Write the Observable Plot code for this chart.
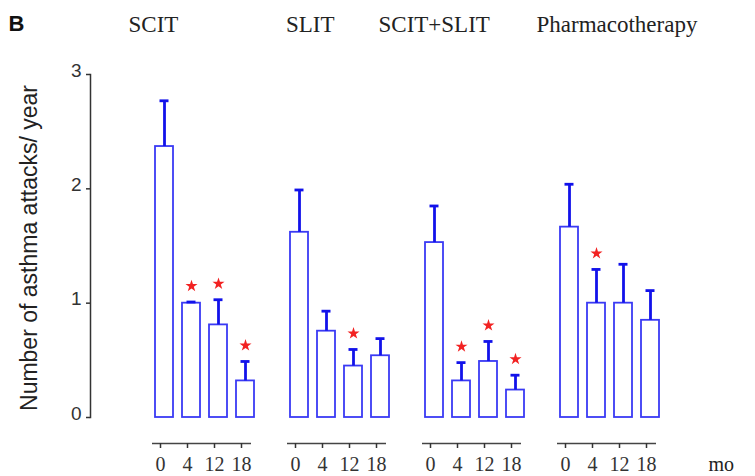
<!DOCTYPE html>
<html>
<head>
<meta charset="utf-8">
<script src="https://cdn.jsdelivr.net/npm/d3@7"></script>
<script src="https://cdn.jsdelivr.net/npm/@observablehq/plot@0.6"></script>
<style>
  html, body { margin: 0; padding: 0; background: #fff; }
  #chart { width: 755px; height: 476px; }
</style>
</head>
<body>
<div id="chart"></div>
<script>
// ---- data ----
const groups = ["SCIT", "SLIT", "SCIT+SLIT", "Pharmacotherapy"];
const months = ["0", "4", "12", "18"];

const meanSCIT  = [2.37, 1.00, 0.81, 0.32];
const upperSCIT = [2.77, 1.01, 1.03, 0.49];
const sigSCIT   = [false, true, true, true];

const meanSLIT  = [1.62, 0.755, 0.45, 0.54];
const upperSLIT = [1.99, 0.93, 0.595, 0.69];
const sigSLIT   = [false, false, true, false];

const meanBoth  = [1.53, 0.32, 0.49, 0.24];
const upperBoth = [1.85, 0.48, 0.665, 0.37];
const sigBoth   = [false, true, true, true];

const meanPharm  = [1.665, 1.00, 1.00, 0.85];
const upperPharm = [2.04, 1.295, 1.34, 1.11];
const sigPharm   = [false, true, false, false];

const yTicks = [0, 1, 2, 3];
const yLabel = "Number of asthma attacks/ year";
const unitLabel = "mo";
const panelLetter = "B";

// ---- build table ----
const means = [meanSCIT, meanSLIT, meanBoth, meanPharm];
const uppers = [upperSCIT, upperSLIT, upperBoth, upperPharm];
const sigs = [sigSCIT, sigSLIT, sigBoth, sigPharm];

const rows = [];
const domain = [];
groups.forEach((g, gi) => {
  if (gi > 0) domain.push("gap" + gi);
  months.forEach((m, mi) => {
    const key = g + "|" + m;
    domain.push(key);
    rows.push({group: g, month: m, key, mean: means[gi][mi], upper: uppers[gi][mi], sig: sigs[gi][mi]});
  });
});
const realKeys = rows.map(d => d.key);
const groupSpans = groups.map(g => ({group: g, first: g + "|" + months[0], last: g + "|" + months[months.length - 1]}));

// ---- layout / style ----
const barBlue = "#3a3af4";
const errBlue = "#1212ea";
const serif = "'Liberation Serif', 'Times New Roman', serif";
const sans = "'Liberation Sans', Arial, sans-serif";
const titleDx = [-36, -13.5, -56, -33];

const titleMarks = groupSpans.map((s, i) =>
  Plot.text([s], {x: "first", text: "group", frameAnchor: "top", textAnchor: "start", lineAnchor: "top",
    dx: titleDx[i], dy: -59, fontFamily: serif, fontSize: 23, fill: "#222"})
);

const chart = Plot.plot({
  width: 755,
  height: 476,
  marginTop: 74,
  marginBottom: 59,
  marginLeft: 90,
  marginRight: 30,
  style: {background: "white", fontFamily: sans},
  x: {domain, paddingInner: 0.315, paddingOuter: 2.1, axis: null},
  y: {domain: [0, 3], axis: null},
  marks: [
    Plot.barY(rows, {x: "key", y: "mean", fill: "white", stroke: barBlue, strokeWidth: 1.8}),
    Plot.ruleX(rows, {x: "key", y1: "mean", y2: "upper", stroke: errBlue, strokeWidth: 2.8}),
    Plot.tickY(rows, {x: "key", y: "upper", stroke: errBlue, strokeWidth: 2.8, insetLeft: 4.5, insetRight: 4.5}),
    Plot.dot(rows.filter(d => d.sig), {x: "key", y: "upper", dy: -16, symbol: "star", r: 3.8, fill: "#f22222", stroke: "none"}),
    Plot.frame({anchor: "left", stroke: "#333", strokeWidth: 1.5}),
    // y ticks (no labels)
    Plot.axisY({ticks: yTicks, tickSize: 4, tickFormat: () => "", color: "#333", strokeWidth: 1.5, label: null}),
    // y tick labels, sitting a little above their ticks as in the reference
    Plot.axisY({ticks: yTicks, tickSize: 0, tickPadding: 9, tickFormat: d3.format("d"), fontSize: 19,
      color: "#333", dy: -4, label: null, fontFamily: sans}),
    Plot.text([yLabel], {text: d => d, frameAnchor: "left", rotate: -90, textAnchor: "middle", lineAnchor: "top",
      dx: -70, dy: 2, fontSize: 23, fill: "#222", fontFamily: sans}),
    Plot.ruleY(groupSpans, {x1: "first", x2: "last", y: 0, dy: 26, dx: -3, stroke: "#444", strokeWidth: 1.5}),
    Plot.axisX({ticks: realKeys, tickFormat: d => d.split("|")[1], tickSize: 5, tickPadding: 8, dy: 26, dx: -4,
      fontSize: 20, fontFamily: serif, color: "#333", strokeWidth: 1.5, label: null}),
    Plot.text([unitLabel], {text: d => d, frameAnchor: "bottom-right", textAnchor: "start", lineAnchor: "middle",
      dx: -17, dy: 47.5, fontSize: 20, fontFamily: serif, fill: "#222"}),
    Plot.text([panelLetter], {text: d => d, frameAnchor: "top-left", textAnchor: "start", lineAnchor: "top",
      dx: -82, dy: -59, fontSize: 22, fontWeight: "bold", fontFamily: sans, fill: "#111"}),
    ...titleMarks
  ]
});
document.getElementById("chart").appendChild(chart);
</script>
</body>
</html>
